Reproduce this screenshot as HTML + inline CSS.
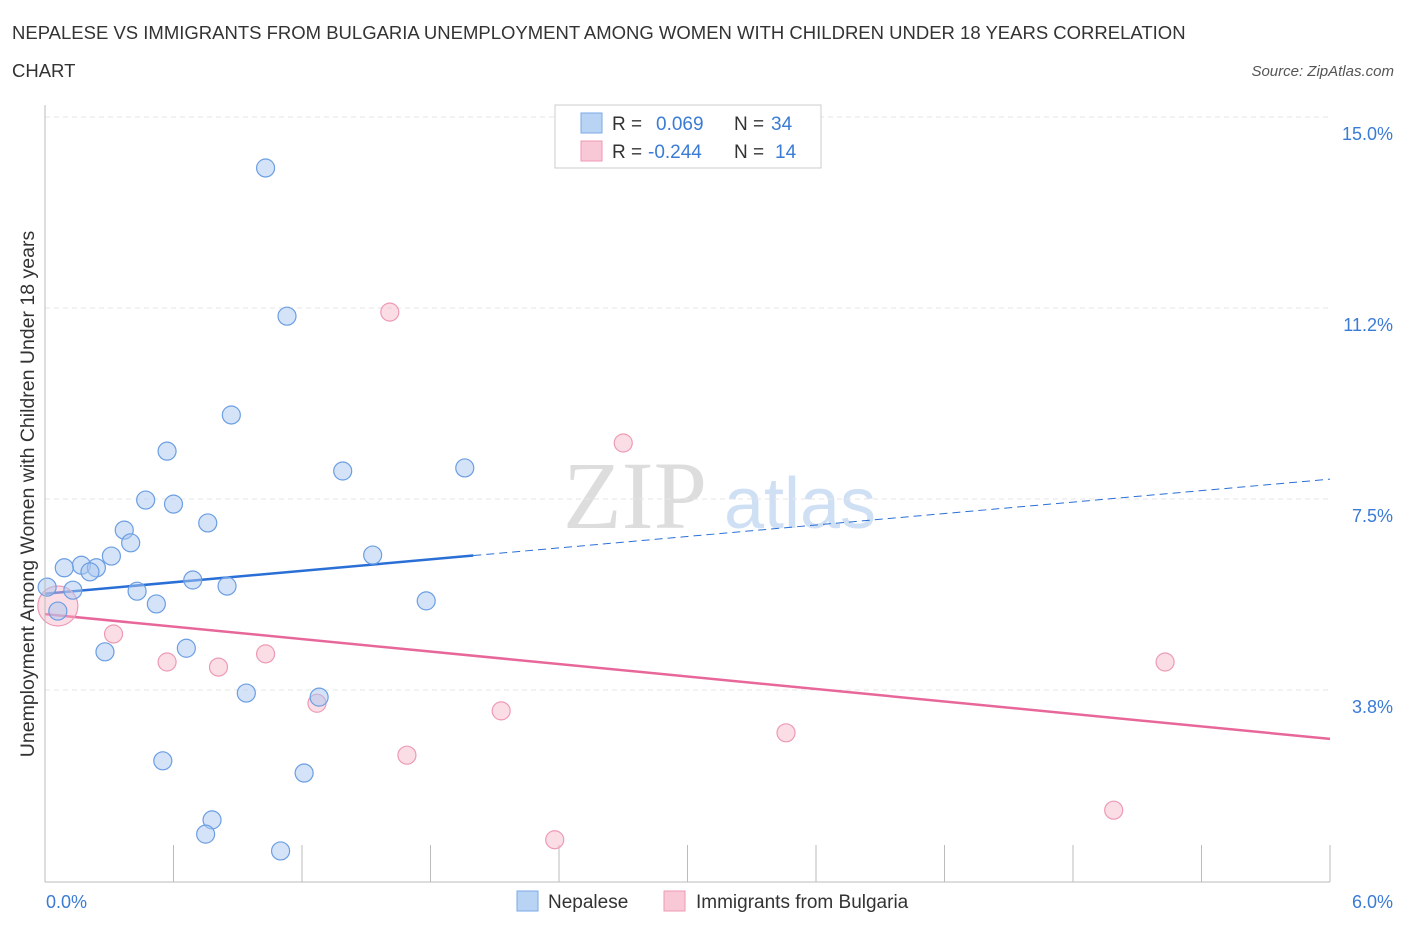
<!DOCTYPE html>
<html><head><meta charset="utf-8"><style>
body{margin:0;background:#fff;font-family:"Liberation Sans",sans-serif}
</style></head><body>
<svg width="1406" height="930" id="chart" xmlns="http://www.w3.org/2000/svg" font-family="Liberation Sans, sans-serif">
<text x="12" y="39" font-size="18.5" fill="#333">NEPALESE VS IMMIGRANTS FROM BULGARIA UNEMPLOYMENT AMONG WOMEN WITH CHILDREN UNDER 18 YEARS CORRELATION</text>
<text x="12" y="77" font-size="18.5" fill="#333">CHART</text>
<text x="1394" y="76" font-size="15" fill="#555" font-style="italic" text-anchor="end">Source: ZipAtlas.com</text>
<text x="635" y="528" font-size="96" fill="#ddd" font-family="Liberation Serif, serif" text-anchor="middle">ZIP</text>
<text x="800" y="528" font-size="72" fill="#cfe0f5" text-anchor="middle">atlas</text>
<g id="grid"></g><g id="ticks"></g><g id="lines"></g><g id="pts"></g>
<line x1="45" y1="105" x2="45" y2="882" stroke="#bbb"/>
<line x1="45" y1="882" x2="1330" y2="882" stroke="#bbb"/>
<text transform="translate(34,494) rotate(-90)" font-size="19.5" fill="#333" text-anchor="middle">Unemployment Among Women with Children Under 18 years</text>
<text x="46" y="908" font-size="18" fill="#3a7bd5">0.0%</text>
<text x="1393" y="908" font-size="18" fill="#3a7bd5" text-anchor="end">6.0%</text>
<g>
<rect x="555" y="105" width="266" height="63" fill="#fff" stroke="#ccc"/>
<rect x="581" y="113" width="21" height="20" fill="#b9d3f5" stroke="#7aa8e6"/>
<rect x="581" y="141" width="21" height="20" fill="#f9c8d7" stroke="#ee9ab5"/>
<text x="612" y="130" font-size="19" fill="#333">R = <tspan fill="#3a7bd5" x="656">0.069</tspan><tspan x="734">N = </tspan><tspan fill="#3a7bd5" x="771">34</tspan></text>
<text x="612" y="158" font-size="19" fill="#333">R = <tspan fill="#3a7bd5" x="648">-0.244</tspan><tspan x="734">N = </tspan><tspan fill="#3a7bd5" x="775">14</tspan></text>
</g>
<g>
<rect x="517" y="891" width="21" height="20" fill="#b9d3f5" stroke="#7aa8e6"/>
<text x="548" y="908" font-size="19" fill="#333">Nepalese</text>
<rect x="664" y="891" width="21" height="20" fill="#f9c8d7" stroke="#ee9ab5"/>
<text x="696" y="908" font-size="19" fill="#333">Immigrants from Bulgaria</text>
</g>
</svg>
<script>
const yTicks=[3.75,7.5,11.25,15];
const yTickLabels=["3.8%","7.5%","11.2%","15.0%"];
const xTicks=[0,0.6,1.2,1.8,2.4,3.0,3.6,4.2,4.8,5.4,6.0];
const nepX=[1.03,1.13,0.87,0.57,1.39,1.96,0.47,0.60,0.76,0.37,0.40,0.31,1.53,0.17,0.09,0.24,0.21,0.01,0.13,0.43,0.69,0.85,0.52,1.78,0.06,0.28,0.66,0.94,1.28,0.55,1.21,0.78,0.75,1.10];
const nepY=[14.00,11.09,9.15,8.44,8.05,8.11,7.48,7.40,7.03,6.89,6.64,6.38,6.40,6.20,6.15,6.15,6.07,5.77,5.71,5.69,5.91,5.79,5.44,5.50,5.30,4.50,4.57,3.69,3.61,2.36,2.12,1.20,0.92,0.59];
const bulX=[1.61,2.70,0.32,0.57,0.81,1.03,1.27,2.13,1.69,3.46,5.23,4.99,2.38,0.06];
const bulY=[11.17,8.60,4.85,4.30,4.20,4.46,3.49,3.34,2.47,2.91,4.30,1.39,0.81,5.40];
const nepTrend=[5.64,7.89];
const bulTrend=[5.24,2.79];
const sx=v=>45+v/6*1285, sy=v=>881-v*50.93;
const NS="http://www.w3.org/2000/svg";
function mk(t,a,p){const e=document.createElementNS(NS,t);for(const k in a)e.setAttribute(k,a[k]);document.getElementById(p).appendChild(e);return e;}
yTicks.forEach((v,i)=>{
 const g=mk('line',{x1:45,x2:1330,y1:sy(v),y2:sy(v),stroke:'#e6e6e6','stroke-dasharray':'5,4'},'grid');
 
 
 const t=mk('text',{x:1393,y:sy(v)+23,'font-size':18,fill:'#3a7bd5','text-anchor':'end'},'grid');
 t.textContent=yTickLabels[i];
 
 
});
xTicks.forEach(v=>{
 const l=mk('line',{x1:sx(v),x2:sx(v),y1:845,y2:882,stroke:'#bbb'},'ticks');
 
 
});
let l1=mk('line',{x1:sx(0),y1:sy(nepTrend[0]),x2:sx(2.0),y2:sy(nepTrend[0]+(nepTrend[1]-nepTrend[0])*2/6),stroke:'#2a6fd6','stroke-width':2.5},'lines');


let l2=mk('line',{x1:sx(2.0),y1:sy(nepTrend[0]+(nepTrend[1]-nepTrend[0])*2/6),x2:sx(6),y2:sy(nepTrend[1]),stroke:'#2a6fd6','stroke-width':1,'stroke-dasharray':'8,5'},'lines');


let l3=mk('line',{x1:sx(0),y1:sy(bulTrend[0]),x2:sx(6),y2:sy(bulTrend[1]),stroke:'#e8679a','stroke-width':2.5},'lines');


bulX.forEach((x,i)=>{
 const c=mk('circle',{cx:sx(x),cy:sy(bulY[i]),r:i==13?20:9,fill:'rgba(246,180,200,0.45)',stroke:'#ee9ab5','stroke-width':1.2},'pts');
 
 
});
nepX.forEach((x,i)=>{
 const c=mk('circle',{cx:sx(x),cy:sy(nepY[i]),r:9,fill:'rgba(170,200,240,0.5)',stroke:'#6b9ee3','stroke-width':1.2},'pts');
 
 
});
</script>
</body></html>
